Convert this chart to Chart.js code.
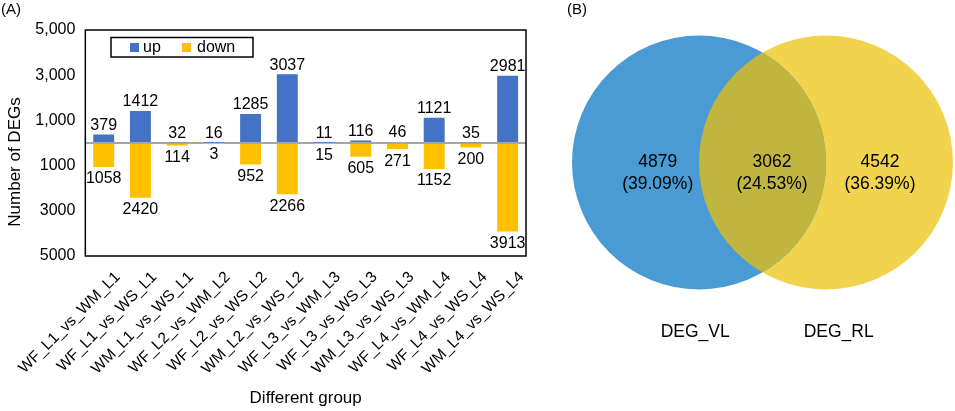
<!DOCTYPE html>
<html>
<head>
<meta charset="utf-8">
<script src="https://cdn.jsdelivr.net/npm/chart.js@4.4.1/dist/chart.umd.min.js"></script>
<style>
  html, body { margin: 0; padding: 0; background: #fff; }
  #panelA { position: absolute; left: 0; top: 0; width: 540px; height: 411px; }
  #panelB { position: absolute; left: 540px; top: 0; width: 415px; height: 411px; }
</style>
</head>
<body>
<div id="panelA"><canvas id="barCanvas"></canvas></div>
<div id="panelB"><canvas id="vennCanvas"></canvas></div>
<script>
// (A) DEG counts per comparison
var groups = ["WF_L1_vs_WM_L1", "WF_L1_vs_WS_L1", "WM_L1_vs_WS_L1",
              "WF_L2_vs_WM_L2", "WF_L2_vs_WS_L2", "WM_L2_vs_WS_L2",
              "WF_L3_vs_WM_L3", "WF_L3_vs_WS_L3", "WM_L3_vs_WS_L3",
              "WF_L4_vs_WM_L4", "WF_L4_vs_WS_L4", "WM_L4_vs_WS_L4"];
var upCounts = [379, 1412, 32, 16, 1285, 3037, 11, 116, 46, 1121, 35, 2981];
var downCounts = [1058, 2420, 114, 3, 952, 2266, 15, 605, 271, 1152, 200, 3913];
var yTicks = [-5000, -3000, -1000, 0, 1000, 3000, 5000];

// (B) Venn
var vennSets = ["DEG_VL", "DEG_RL"];
var vennCounts = [4879, 3062, 4542]; // VL only, shared, RL only

var FONT = "'Liberation Sans', Arial, sans-serif";
Chart.defaults.font.family = FONT;
Chart.defaults.color = '#000';

var upColor = '#4472C4';
var downColor = '#FFC000';

// frame, value labels, legend and y title for panel A
var barDecor = {
  id: 'barDecor',
  afterDraw: function (chart) {
    var ctx = chart.ctx, a = chart.chartArea;
    ctx.save();
    ctx.strokeStyle = '#000';
    ctx.lineWidth = 1.5;
    ctx.strokeRect(a.left, a.top, a.right - a.left, a.bottom - a.top);

    ctx.fillStyle = '#000';
    ctx.font = '16px ' + FONT;
    ctx.textAlign = 'center';
    ctx.textBaseline = 'bottom';
    chart.getDatasetMeta(0).data.forEach(function (bar, i) {
      ctx.fillText(String(upCounts[i]), bar.x, bar.y - 1);
    });
    ctx.textBaseline = 'top';
    chart.getDatasetMeta(1).data.forEach(function (bar, i) {
      ctx.fillText(String(downCounts[i]), bar.x, bar.y + 4);
    });

    // legend box
    ctx.lineWidth = 1.5;
    ctx.strokeRect(111, 37.5, 142, 19.5);
    var ds = chart.data.datasets;
    var items = [[130, 143], [182, 197]];
    ctx.textAlign = 'left';
    ctx.textBaseline = 'middle';
    ds.forEach(function (d, i) {
      ctx.fillStyle = d.backgroundColor;
      ctx.fillRect(items[i][0], 43, 9, 9);
      ctx.fillStyle = '#000';
      ctx.fillText(d.label, items[i][1], 47.5);
    });

    // y title
    ctx.save();
    ctx.translate(15, 162);
    ctx.rotate(-Math.PI / 2);
    ctx.font = '17px ' + FONT;
    ctx.textAlign = 'center';
    ctx.fillText('Number of DEGs', 0, 0);
    ctx.restore();

    ctx.font = '15px ' + FONT;
    ctx.textAlign = 'left';
    ctx.fillText('(A)', 1, 10);
    ctx.restore();
  }
};

new Chart(document.getElementById('barCanvas'), {
  type: 'bar',
  data: {
    labels: groups,
    datasets: [
      { label: 'up', data: upCounts, backgroundColor: upColor },
      { label: 'down', data: downCounts.map(function (v) { return -v; }), backgroundColor: downColor }
    ]
  },
  options: {
    responsive: true,
    maintainAspectRatio: false,
    animation: false,
    events: [],
    layout: { padding: { left: 0, top: 30, right: 14, bottom: 0 } },
    datasets: { bar: { barPercentage: 0.57, categoryPercentage: 1 } },
    plugins: { legend: { display: false }, tooltip: { enabled: false } },
    scales: {
      x: {
        stacked: true,
        grid: { display: false },
        border: { display: false },
        ticks: { autoSkip: false, minRotation: 45, maxRotation: 45, padding: 4, labelOffset: 14, font: { size: 15.5 } },
        title: { display: true, text: 'Different group', font: { size: 17 }, padding: { top: 0, bottom: 2 } },
        afterFit: function (s) { s.height = 155; }
      },
      y: {
        stacked: true,
        min: -5000,
        max: 5000,
        z: 1,
        border: { display: false },
        grid: {
          drawTicks: false,
          lineWidth: 2,
          color: function (c) { return c.tick && c.tick.value === 0 ? '#A6A6A6' : 'rgba(0,0,0,0)'; }
        },
        afterBuildTicks: function (s) { s.ticks = yTicks.map(function (v) { return { value: v }; }); },
        ticks: {
          padding: 10,
          font: { size: 16 },
          callback: function (v) {
            if (v === 0) return '';
            return v > 0 ? v.toLocaleString('en-US') : String(-v);
          }
        },
        afterFit: function (s) { s.width = 83; }
      }
    }
  },
  plugins: [barDecor]
});

// Panel B: two circles as bubbles, overlap painted over the shared lens
var vennBlue = '#4A9BD3';
var vennYellow = '#F2D34D';
var vennShared = '#C0B53F';
var circleRadius = 127;

var vennDecor = {
  id: 'vennDecor',
  afterDatasetsDraw: function (chart) {
    var ctx = chart.ctx;
    var c1 = chart.getDatasetMeta(0).data[0];
    var c2 = chart.getDatasetMeta(1).data[0];
    ctx.save();
    ctx.beginPath();
    ctx.arc(c1.x, c1.y, c1.options.radius, 0, Math.PI * 2);
    ctx.clip();
    ctx.beginPath();
    ctx.arc(c2.x, c2.y, c2.options.radius, 0, Math.PI * 2);
    ctx.fillStyle = vennShared;
    ctx.fill();
    ctx.restore();

    var total = vennCounts.reduce(function (a, b) { return a + b; }, 0);
    var sx = chart.scales.x, sy = chart.scales.y;
    var spots = [-0.825, 0.075, 0.925];
    ctx.save();
    ctx.fillStyle = '#000';
    ctx.font = '17.5px ' + FONT;
    ctx.textAlign = 'center';
    ctx.textBaseline = 'middle';
    var cy = sy.getPixelForValue(0);
    vennCounts.forEach(function (n, i) {
      var px = sx.getPixelForValue(spots[i]);
      ctx.fillText(String(n), px, cy);
      ctx.fillText('(' + (n / total * 100).toFixed(2) + '%)', px, cy + 22);
    });
    var nameSpots = [-0.53, 0.60];
    vennSets.forEach(function (name, i) {
      ctx.fillText(name, sx.getPixelForValue(nameSpots[i]), sy.getPixelForValue(-1.335));
    });
    ctx.font = '15px ' + FONT;
    ctx.textAlign = 'left';
    ctx.fillText('(B)', 27, 10);
    ctx.restore();
  }
};

new Chart(document.getElementById('vennCanvas'), {
  type: 'bubble',
  data: {
    datasets: [
      { label: vennSets[0], data: [{ x: -0.5, y: 0 }], backgroundColor: vennBlue },
      { label: vennSets[1], data: [{ x: 0.5, y: 0 }], backgroundColor: vennYellow }
    ]
  },
  options: {
    responsive: true,
    maintainAspectRatio: false,
    animation: false,
    events: [],
    layout: { padding: 0, autoPadding: false },
    elements: { point: { borderWidth: 0, radius: circleRadius } },
    plugins: { legend: { display: false }, tooltip: { enabled: false } },
    scales: {
      x: { type: 'linear', display: false, min: -1.752, max: 1.516 },
      y: { type: 'linear', display: false, min: -1.957, max: 1.28 }
    }
  },
  plugins: [vennDecor]
});
</script>
</body>
</html>
